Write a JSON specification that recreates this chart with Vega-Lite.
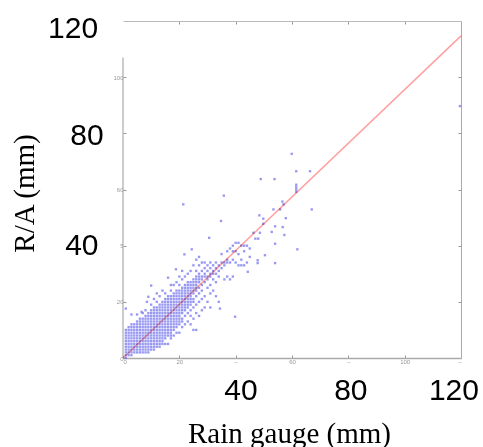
{"$schema":"https://vega.github.io/schema/vega-lite/v6.json","width":338,"height":337,"padding":{"left":123,"top":21,"right":22,"bottom":89},"autosize":"none","background":"white","view":{"stroke":null},
"layer":[
{"data":{"values":[{"x":0,"y":0,"y2":107}]},"mark":{"type":"rule","color":"#aaaaaa","strokeWidth":1.2},"encoding":{"x":{"field":"x","type":"quantitative","scale":{"domain":[0,120],"nice":false},"axis":{"orient":"bottom","values":[0,20,40,60,80,100,120],"grid":false,"title":"Rain gauge (mm)","titleFont":"Liberation Serif","titleFontSize":29,"titleFontWeight":"normal","titleColor":"#000","titleX":166,"titleY":75,"titleBaseline":"middle","labelFontSize":6,"labelColor":"#999","labelPadding":3,"labelFont":"Liberation Sans","tickSize":-3,"tickColor":"#999","domainColor":"#aaa","domainWidth":1.5,"labelExpr":"datum.value==0?'0':datum.value==20?'20':datum.value==40?'–':datum.value==60?'60':datum.value==80?'–':datum.value==100?'100':'–'"}},"y":{"field":"y","type":"quantitative","scale":{"domain":[0,120],"nice":false},"axis":{"orient":"left","values":[0,20,40,60,80,100],"grid":false,"domain":false,"title":"R/A (mm)","titleFont":"Liberation Serif","titleFontSize":29,"titleFontWeight":"normal","titleColor":"#000","titleX":-99,"titleY":172,"titleBaseline":"middle","labelFontSize":6,"labelColor":"#999","labelPadding":3,"labelFont":"Liberation Sans","tickSize":-3,"tickColor":"#999","labelExpr":"datum.value==0?'0':datum.value==20?'20':datum.value==40?'5':datum.value==60?'60':datum.value==100?'100':''"}},"y2":{"field":"y2"}}},
{"data":{"values":[{"x":0,"y":120,"y2":120}]},"mark":{"type":"rule","opacity":0},"encoding":{"x":{"field":"x","type":"quantitative","axis":{"orient":"top","values":[20,40,60,80,100],"labels":false,"title":null,"grid":false,"tickSize":-3,"tickColor":"#999","domainColor":"#bbb"}},"y":{"field":"y","type":"quantitative","axis":{"orient":"right","values":[20,40,60,80,100],"labels":false,"title":null,"grid":false,"tickSize":-3,"tickColor":"#999","domainColor":"#aaa"}}}},
{"data":{"name":"pts","values":[
{"x":1,"y":0},{"x":1,"y":1},{"x":1,"y":2},{"x":1,"y":3},{"x":1,"y":4},{"x":1,"y":5},{"x":1,"y":6},{"x":1,"y":7},{"x":1,"y":8},{"x":1,"y":9},{"x":1,"y":10},{"x":1,"y":17.6},
{"x":2,"y":1},{"x":2,"y":2},{"x":2,"y":3},{"x":2,"y":4},{"x":2,"y":5},{"x":2,"y":6},{"x":2,"y":7},{"x":2,"y":8},{"x":2,"y":9},{"x":2,"y":10},{"x":2,"y":11},
{"x":3,"y":1},{"x":3,"y":2},{"x":3,"y":3},{"x":3,"y":4},{"x":3,"y":5},{"x":3,"y":6},{"x":3,"y":7},{"x":3,"y":8},{"x":3,"y":9},{"x":3,"y":10},{"x":3,"y":11},{"x":3,"y":12},{"x":3,"y":15.5},
{"x":4,"y":2},{"x":4,"y":3},{"x":4,"y":4},{"x":4,"y":5},{"x":4,"y":6},{"x":4,"y":7},{"x":4,"y":8},{"x":4,"y":9},{"x":4,"y":10},{"x":4,"y":11},{"x":4,"y":12},
{"x":5,"y":2},{"x":5,"y":3},{"x":5,"y":4},{"x":5,"y":5},{"x":5,"y":6},{"x":5,"y":7},{"x":5,"y":8},{"x":5,"y":9},{"x":5,"y":10},{"x":5,"y":11},{"x":5,"y":12},{"x":5,"y":13},{"x":5,"y":15.5},
{"x":6,"y":2},{"x":6,"y":3},{"x":6,"y":4},{"x":6,"y":5},{"x":6,"y":6},{"x":6,"y":7},{"x":6,"y":8},{"x":6,"y":9},{"x":6,"y":10},{"x":6,"y":11},{"x":6,"y":12},{"x":6,"y":13},{"x":6,"y":14},{"x":6.6,"y":16.4},
{"x":7,"y":2},{"x":7,"y":3},{"x":7,"y":4},{"x":7,"y":5},{"x":7,"y":6},{"x":7,"y":7},{"x":7,"y":8},{"x":7,"y":9},{"x":7,"y":10},{"x":7,"y":11},{"x":7,"y":12},{"x":7,"y":13},{"x":7,"y":14},{"x":7,"y":16},
{"x":8,"y":2},{"x":8,"y":3},{"x":8,"y":4},{"x":8,"y":5},{"x":8,"y":6},{"x":8,"y":7},{"x":8,"y":8},{"x":8,"y":9},{"x":8,"y":10},{"x":8,"y":11},{"x":8,"y":12},{"x":8,"y":13},{"x":8,"y":14},{"x":8,"y":15},{"x":8,"y":17},{"x":8.5,"y":20},
{"x":9,"y":2},{"x":9,"y":3},{"x":9,"y":4},{"x":9,"y":5},{"x":9,"y":6},{"x":9,"y":7},{"x":9,"y":8},{"x":9,"y":9},{"x":9,"y":10},{"x":9,"y":11},{"x":9,"y":12},{"x":9,"y":13},{"x":9,"y":14},{"x":9,"y":15},{"x":9,"y":16},{"x":9,"y":21.8},
{"x":10,"y":3},{"x":10,"y":4},{"x":10,"y":5},{"x":10,"y":6},{"x":10,"y":7},{"x":10,"y":8},{"x":10,"y":9},{"x":10,"y":10},{"x":10,"y":11},{"x":10,"y":12},{"x":10,"y":13},{"x":10,"y":14},{"x":10,"y":15},{"x":10,"y":16},{"x":10,"y":17},{"x":10,"y":19},{"x":10,"y":25.8},
{"x":11,"y":3},{"x":11,"y":4},{"x":11,"y":5},{"x":11,"y":6},{"x":11,"y":7},{"x":11,"y":8},{"x":11,"y":9},{"x":11,"y":10},{"x":11,"y":11},{"x":11,"y":12},{"x":11,"y":13},{"x":11,"y":14},{"x":11,"y":15},{"x":11,"y":16},{"x":11,"y":17},{"x":11,"y":18},{"x":11,"y":21},
{"x":12,"y":4},{"x":12,"y":5},{"x":12,"y":6},{"x":12,"y":7},{"x":12,"y":8},{"x":12,"y":9},{"x":12,"y":10},{"x":12,"y":11},{"x":12,"y":12},{"x":12,"y":13},{"x":12,"y":14},{"x":12,"y":15},{"x":12,"y":16},{"x":12,"y":17},{"x":12,"y":18},{"x":12,"y":20},{"x":12,"y":23},
{"x":13,"y":4},{"x":13,"y":5},{"x":13,"y":6},{"x":13,"y":7},{"x":13,"y":8},{"x":13,"y":9},{"x":13,"y":10},{"x":13,"y":11},{"x":13,"y":12},{"x":13,"y":13},{"x":13,"y":14},{"x":13,"y":15},{"x":13,"y":16},{"x":13,"y":17},{"x":13,"y":18},{"x":13,"y":19},{"x":13,"y":22},
{"x":14,"y":5},{"x":14,"y":6},{"x":14,"y":7},{"x":14,"y":8},{"x":14,"y":9},{"x":14,"y":10},{"x":14,"y":11},{"x":14,"y":12},{"x":14,"y":13},{"x":14,"y":14},{"x":14,"y":15},{"x":14,"y":16},{"x":14,"y":17},{"x":14,"y":18},{"x":14,"y":19},{"x":14,"y":20},{"x":14,"y":24},
{"x":15,"y":5},{"x":15,"y":7},{"x":15,"y":8},{"x":15,"y":9},{"x":15,"y":10},{"x":15,"y":11},{"x":15,"y":12},{"x":15,"y":13},{"x":15,"y":14},{"x":15,"y":15},{"x":15,"y":16},{"x":15,"y":17},{"x":15,"y":18},{"x":15,"y":19},{"x":15,"y":20},{"x":15,"y":21},{"x":15,"y":23},
{"x":16,"y":5},{"x":16,"y":8},{"x":16,"y":9},{"x":16,"y":10},{"x":16,"y":11},{"x":16,"y":12},{"x":16,"y":13},{"x":16,"y":14},{"x":16,"y":15},{"x":16,"y":16},{"x":16,"y":17},{"x":16,"y":18},{"x":16,"y":19},{"x":16,"y":20},{"x":16,"y":21},{"x":16,"y":22},{"x":16,"y":28.6},
{"x":17,"y":7},{"x":17,"y":8},{"x":17,"y":9},{"x":17,"y":10},{"x":17,"y":11},{"x":17,"y":12},{"x":17,"y":13},{"x":17,"y":14},{"x":17,"y":15},{"x":17,"y":16},{"x":17,"y":17},{"x":17,"y":18},{"x":17,"y":19},{"x":17,"y":20},{"x":17,"y":21},{"x":17,"y":22},{"x":17,"y":24},{"x":17,"y":26},
{"x":18,"y":8},{"x":18,"y":10},{"x":18,"y":11},{"x":18,"y":12},{"x":18,"y":13},{"x":18,"y":14},{"x":18,"y":15},{"x":18,"y":16},{"x":18,"y":17},{"x":18,"y":18},{"x":18,"y":19},{"x":18,"y":20},{"x":18,"y":21},{"x":18,"y":22},{"x":18,"y":23},{"x":18,"y":26},{"x":18.8,"y":31.6},
{"x":19,"y":9},{"x":19,"y":11},{"x":19,"y":12},{"x":19,"y":13},{"x":19,"y":14},{"x":19,"y":15},{"x":19,"y":16},{"x":19,"y":17},{"x":19,"y":18},{"x":19,"y":19},{"x":19,"y":20},{"x":19,"y":21},{"x":19,"y":22},{"x":19,"y":23},{"x":19,"y":24},{"x":19,"y":27},
{"x":20,"y":9},{"x":20,"y":12},{"x":20,"y":13},{"x":20,"y":14},{"x":20,"y":15},{"x":20,"y":16},{"x":20,"y":17},{"x":20,"y":18},{"x":20,"y":19},{"x":20,"y":20},{"x":20,"y":21},{"x":20,"y":22},{"x":20,"y":23},{"x":20,"y":24},{"x":20,"y":26},{"x":20,"y":29},
{"x":21,"y":11},{"x":21,"y":13},{"x":21,"y":14},{"x":21,"y":16},{"x":21,"y":17},{"x":21,"y":18},{"x":21,"y":19},{"x":21,"y":20},{"x":21,"y":21},{"x":21,"y":22},{"x":21,"y":23},{"x":21,"y":24},{"x":21,"y":25},{"x":21,"y":28},{"x":21,"y":31},
{"x":22,"y":12},{"x":22,"y":15},{"x":22,"y":17},{"x":22,"y":18},{"x":22,"y":19},{"x":22,"y":20},{"x":22,"y":21},{"x":22,"y":22},{"x":22,"y":23},{"x":22,"y":24},{"x":22,"y":25},{"x":22,"y":26},{"x":22,"y":29},
{"x":23,"y":13},{"x":23,"y":16},{"x":23,"y":18},{"x":23,"y":19},{"x":23,"y":20},{"x":23,"y":21},{"x":23,"y":22},{"x":23,"y":23},{"x":23,"y":24},{"x":23,"y":25},{"x":23,"y":26},{"x":23,"y":27},{"x":23,"y":30},
{"x":24,"y":12},{"x":24,"y":15},{"x":24,"y":17},{"x":24,"y":19},{"x":24,"y":20},{"x":24,"y":21},{"x":24,"y":22},{"x":24,"y":23},{"x":24,"y":24},{"x":24,"y":25},{"x":24,"y":26},{"x":24,"y":27},{"x":24,"y":31},
{"x":25,"y":10},{"x":25,"y":14},{"x":25,"y":18},{"x":25,"y":20},{"x":25,"y":21},{"x":25,"y":23},{"x":25,"y":24},{"x":25,"y":25},{"x":25,"y":26},{"x":25,"y":27},{"x":25,"y":28},{"x":25,"y":33},
{"x":26,"y":10},{"x":26,"y":16},{"x":26,"y":19},{"x":26,"y":22},{"x":26,"y":24},{"x":26,"y":25},{"x":26,"y":26},{"x":26,"y":27},{"x":26,"y":28},{"x":26,"y":29},{"x":26,"y":31},{"x":26,"y":35},
{"x":27,"y":15},{"x":27,"y":20},{"x":27,"y":23},{"x":27,"y":25},{"x":27,"y":27},{"x":27,"y":28},{"x":27,"y":29},{"x":27,"y":30},{"x":27,"y":33},{"x":27,"y":36},
{"x":28,"y":17},{"x":28,"y":21},{"x":28,"y":24},{"x":28,"y":26},{"x":28,"y":28},{"x":28,"y":29},{"x":28,"y":31},{"x":28,"y":34},
{"x":29,"y":18},{"x":29,"y":22},{"x":29,"y":27},{"x":29,"y":29},{"x":29,"y":30},{"x":29,"y":32},{"x":29,"y":34},
{"x":30,"y":20},{"x":30,"y":25},{"x":30,"y":28},{"x":30,"y":29},{"x":30,"y":31},{"x":30,"y":33},{"x":30.6,"y":42.8},
{"x":31,"y":18},{"x":31,"y":23},{"x":31,"y":26},{"x":31,"y":29},{"x":31,"y":30},{"x":31,"y":32},{"x":31,"y":34},
{"x":32,"y":24},{"x":32,"y":28},{"x":32,"y":30},{"x":32,"y":31},{"x":32,"y":33},{"x":33,"y":22},{"x":33,"y":27},{"x":33,"y":30},{"x":33,"y":32},{"x":33,"y":34},
{"x":34,"y":20},{"x":34.4,"y":17.6},{"x":34,"y":29},{"x":34,"y":31},{"x":34,"y":33},{"x":34.8,"y":48.8},{"x":35,"y":32},{"x":35,"y":34},{"x":35,"y":37},
{"x":36,"y":28},{"x":36,"y":33},{"x":36,"y":34},{"x":37,"y":29},{"x":37,"y":34},{"x":37,"y":35},{"x":37,"y":38},{"x":38,"y":28},{"x":38,"y":34},{"x":38,"y":39},{"x":39,"y":29},{"x":39,"y":35},{"x":39,"y":38},{"x":39,"y":40},{"x":39.8,"y":14.7},
{"x":40,"y":34},{"x":40,"y":38},{"x":40,"y":41},{"x":41,"y":33},{"x":41,"y":37},{"x":41,"y":41},{"x":42,"y":33},{"x":42,"y":35},{"x":42,"y":40},{"x":43,"y":33},{"x":43,"y":38},{"x":43,"y":40},{"x":44,"y":34},{"x":44,"y":40},{"x":44.3,"y":30.7},{"x":45,"y":36},{"x":45,"y":39},
{"x":46.3,"y":44.6},{"x":47.8,"y":34.8},{"x":47.8,"y":33.8},{"x":48.6,"y":44.6},{"x":47,"y":42.5},{"x":48,"y":42.5},{"x":48.4,"y":50.8},{"x":49.8,"y":49.6},{"x":49.8,"y":47.8},{"x":50.4,"y":36.6},{"x":52.8,"y":44.9},{"x":54,"y":46.9},{"x":54,"y":40.7},{"x":54,"y":33.8},{"x":57.3,"y":43.8},{"x":56.7,"y":46.6},{"x":57.8,"y":49.8},{"x":53.4,"y":52.9},{"x":55.8,"y":52.9},{"x":57,"y":54.7},{"x":56.6,"y":55.7},{"x":61.9,"y":38.7},{"x":67,"y":52.9},{"x":21.4,"y":54.7},{"x":35.8,"y":57.8},{"x":24.4,"y":38.7},{"x":21.8,"y":36.9},{"x":59.9,"y":72.7},{"x":61.5,"y":66.5},{"x":66.4,"y":66.5},{"x":48.9,"y":63.7},{"x":53.8,"y":63.7},{"x":61.5,"y":61.7},{"x":61.5,"y":60.8},{"x":61.5,"y":60},{"x":61.5,"y":59.2},{"x":119.6,"y":89.7}
]},"mark":{"type":"square","size":5.5,"color":"#7070ee","opacity":0.72},"encoding":{"x":{"field":"x","type":"quantitative","axis":null},"y":{"field":"y","type":"quantitative","axis":null}}},
{"data":{"values":[{"x":0,"y":0},{"x":120,"y":114.7}]},"mark":{"type":"line","color":"#ffa0a0","strokeWidth":1.5,"blend":"multiply"},"encoding":{"x":{"field":"x","type":"quantitative","axis":null},"y":{"field":"y","type":"quantitative","axis":null}}},
{"data":{"values":[{"x":41.9,"y":-11.7,"t":"40"},{"x":80.9,"y":-11.7,"t":"80"},{"x":117.5,"y":-11.7,"t":"120"},{"x":-17.7,"y":117,"t":"120"},{"x":-12.8,"y":79.2,"t":"80"},{"x":-14.6,"y":39.8,"t":"40"}]},"mark":{"type":"text","font":"Liberation Sans","fontSize":30,"color":"#000","align":"center","baseline":"middle","clip":false},"encoding":{"x":{"field":"x","type":"quantitative","axis":null},"y":{"field":"y","type":"quantitative","axis":null},"text":{"field":"t","type":"nominal"}}}
],"resolve":{"axis":{"x":"independent","y":"independent"}}}
